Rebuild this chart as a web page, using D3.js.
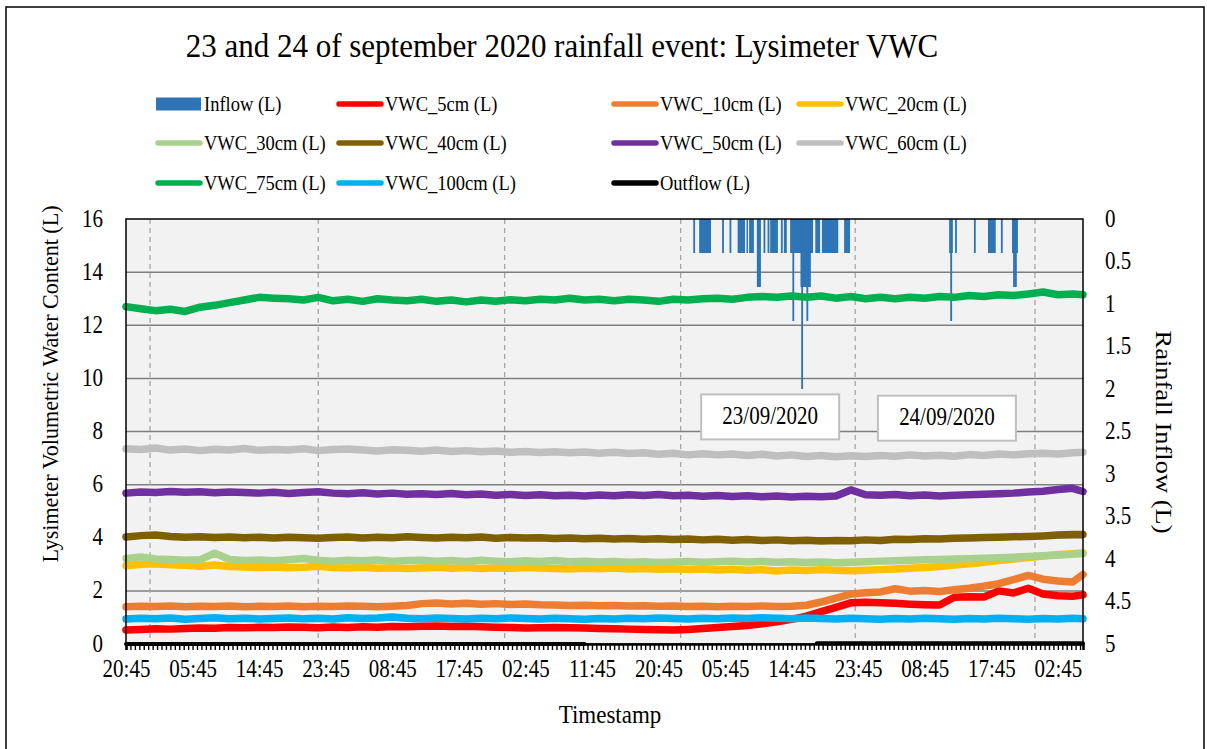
<!DOCTYPE html>
<html>
<head>
<meta charset="utf-8">
<script src="https://cdn.jsdelivr.net/npm/d3@7"></script>
<style>
  body { margin: 0; background: #fff; }
  svg { display: block; font-family: "Liberation Serif", "Times New Roman", serif; }
</style>
</head>
<body>
<div id="chart"></div>
<script>
/* CONSTANTS AND GLOBALS */
const width = 1207,
  height = 749,
  plot = { left: 126, right: 1083, top: 219, bottom: 644 };
let svg;

/* DATA */
// sample times, hours after the first 20:45 reading
const hours = d3.range(0, 129, 2).concat([129.4]);
const xTickLabels = ["20:45", "05:45", "14:45", "23:45", "08:45", "17:45", "02:45", "11:45",
  "20:45", "05:45", "14:45", "23:45", "08:45", "17:45", "02:45"];
const xTickStep = 9;
const dayLines = [3.25, 26.0, 51.2, 75.0, 98.6, 122.9];
const dateLabels = ["23/09/2020", "24/09/2020"];
const dateAnchors = [[87.1, 8.55], [111.0, 8.5]];

const seriesNames = ["Inflow (L)", "VWC_5cm (L)", "VWC_10cm (L)", "VWC_20cm (L)",
  "VWC_30cm (L)", "VWC_40cm (L)", "VWC_50cm (L)", "VWC_60cm (L)",
  "VWC_75cm (L)", "VWC_100cm (L)", "Outflow (L)"];

const vwc5 = [
  0.53, 0.55, 0.57, 0.56, 0.58, 0.60, 0.59, 0.62, 0.61, 0.63,
  0.62, 0.64, 0.63, 0.61, 0.64, 0.62, 0.65, 0.63, 0.66, 0.65,
  0.67, 0.68, 0.66, 0.67, 0.65, 0.63, 0.62, 0.60, 0.61, 0.62,
  0.61, 0.60, 0.58, 0.57, 0.56, 0.55, 0.54, 0.53, 0.55, 0.58,
  0.62, 0.66, 0.70, 0.76, 0.84, 0.93, 1.05, 1.22, 1.38, 1.55,
  1.57, 1.55, 1.53, 1.50, 1.48, 1.47, 1.76, 1.78, 1.77, 2.00,
  1.92, 2.10, 1.88, 1.82, 1.80, 1.85];
const vwc10 = [
  1.40, 1.42, 1.41, 1.43, 1.40, 1.42, 1.41, 1.43, 1.40, 1.42,
  1.41, 1.43, 1.40, 1.42, 1.41, 1.43, 1.42, 1.40, 1.42, 1.45,
  1.52, 1.54, 1.51, 1.53, 1.50, 1.52, 1.49, 1.51, 1.48, 1.47,
  1.45, 1.46, 1.44, 1.45, 1.43, 1.44, 1.42, 1.43, 1.41, 1.42,
  1.40, 1.42, 1.41, 1.43, 1.41, 1.42, 1.46, 1.58, 1.73, 1.88,
  1.93, 1.96, 2.08, 1.99, 2.01, 1.98, 2.04, 2.10, 2.18, 2.27,
  2.42, 2.58, 2.44, 2.37, 2.33, 2.62];
const vwc20 = [
  2.95, 3.00, 3.02, 2.98, 2.96, 2.93, 2.97, 2.92, 2.90, 2.88,
  2.90, 2.87, 2.89, 2.93, 2.88, 2.86, 2.89, 2.85, 2.87, 2.84,
  2.86, 2.89, 2.85, 2.88, 2.84, 2.87, 2.85, 2.88, 2.86, 2.84,
  2.82, 2.85, 2.83, 2.86, 2.82, 2.84, 2.81, 2.83, 2.80, 2.82,
  2.79, 2.81, 2.78, 2.80, 2.75, 2.79, 2.77, 2.80, 2.78, 2.76,
  2.78, 2.80, 2.82, 2.85, 2.88, 2.92, 2.97, 3.02, 3.08, 3.14,
  3.20, 3.26, 3.31, 3.36, 3.40, 3.43];
const vwc30 = [
  3.22, 3.28, 3.20, 3.18, 3.15, 3.17, 3.42, 3.18, 3.14, 3.16,
  3.13, 3.17, 3.22, 3.15, 3.12, 3.15, 3.13, 3.16, 3.12, 3.14,
  3.15, 3.12, 3.14, 3.11, 3.15, 3.12, 3.10, 3.13, 3.11, 3.14,
  3.10, 3.12, 3.09, 3.11, 3.08, 3.10, 3.07, 3.09, 3.11, 3.08,
  3.10, 3.12, 3.09, 3.11, 3.08, 3.10, 3.07, 3.09, 3.06, 3.08,
  3.10, 3.12, 3.13, 3.15, 3.17, 3.18, 3.20, 3.21, 3.23, 3.25,
  3.27, 3.29, 3.32, 3.35, 3.38, 3.41];
const vwc40 = [
  4.03, 4.08, 4.10, 4.05, 4.02, 4.04, 4.01, 4.03, 4.00, 4.02,
  3.99, 4.02, 4.00, 3.98, 4.01, 4.03, 3.99, 4.02, 4.00, 4.04,
  4.01, 3.99, 4.02, 4.00, 4.03, 3.98, 4.01, 3.99, 4.00, 3.97,
  3.99, 3.96, 3.98, 3.95, 3.97, 3.94, 3.96, 3.93, 3.95, 3.92,
  3.94, 3.91, 3.93, 3.90, 3.92, 3.89, 3.91, 3.88, 3.90, 3.89,
  3.92, 3.90, 3.94, 3.93, 3.96, 3.95, 3.98, 3.99, 4.01, 4.02,
  4.04, 4.05, 4.07, 4.10, 4.12, 4.12];
const vwc50 = [
  5.68, 5.72, 5.70, 5.74, 5.71, 5.73, 5.69, 5.72, 5.70, 5.68,
  5.71, 5.67, 5.70, 5.73, 5.68, 5.66, 5.69, 5.65, 5.68, 5.64,
  5.66, 5.63, 5.67, 5.62, 5.65, 5.60, 5.63, 5.59, 5.62, 5.58,
  5.60, 5.57, 5.61, 5.58, 5.62, 5.59, 5.63, 5.58, 5.60, 5.56,
  5.59, 5.55, 5.58, 5.54, 5.57, 5.53, 5.56, 5.54, 5.57, 5.80,
  5.62, 5.60, 5.63, 5.58, 5.61, 5.57, 5.60, 5.62, 5.64, 5.66,
  5.68, 5.72, 5.75, 5.82, 5.86, 5.74];
const vwc60 = [
  7.35, 7.32, 7.38, 7.30, 7.34, 7.28, 7.33, 7.30, 7.36, 7.29,
  7.32, 7.30, 7.35, 7.28, 7.32, 7.34, 7.30, 7.27, 7.31, 7.29,
  7.26, 7.30, 7.25, 7.28, 7.24, 7.27, 7.22, 7.25, 7.21, 7.24,
  7.20, 7.23, 7.18, 7.22, 7.17, 7.20, 7.14, 7.18, 7.12, 7.16,
  7.12, 7.15, 7.10, 7.14, 7.08, 7.12, 7.06, 7.10, 7.05, 7.09,
  7.06, 7.10, 7.07, 7.12, 7.08, 7.11, 7.07, 7.13, 7.10, 7.15,
  7.12, 7.16, 7.18, 7.15, 7.20, 7.22];
const vwc75 = [
  12.70, 12.62, 12.55, 12.60, 12.52, 12.68, 12.75, 12.85, 12.95, 13.05,
  13.02, 13.00, 12.95, 13.05, 12.92, 12.98, 12.90, 13.00, 12.95, 12.92,
  12.98, 12.90, 12.95, 12.88, 12.95, 12.90, 12.96, 12.92, 12.98, 12.95,
  13.02, 12.95, 12.98, 12.92, 12.98, 12.95, 12.90, 12.98, 12.95, 13.00,
  13.02, 12.98, 13.05, 13.08, 13.05, 13.10, 13.05, 13.10, 13.02, 13.08,
  13.00, 13.05, 13.00, 13.05, 13.02, 13.08, 13.05, 13.12, 13.08, 13.15,
  13.12, 13.18, 13.25, 13.15, 13.18, 13.15];
const vwc100 = [
  0.94, 0.97, 0.95, 0.98, 0.93, 0.96, 0.99, 0.95, 0.97, 0.94,
  0.96, 0.98, 0.95, 0.97, 0.94, 0.99, 0.96, 0.98, 1.02, 0.97,
  0.95, 0.98, 0.96, 0.94, 0.97, 0.95, 0.98, 0.96, 0.94, 0.97,
  0.95, 0.93, 0.96, 0.94, 0.97, 0.95, 0.98, 0.96, 0.94, 0.97,
  0.95, 0.98, 0.96, 0.99, 0.97, 0.95, 0.98, 0.96, 0.94, 0.97,
  0.95, 0.93, 0.96, 0.94, 0.97, 0.95, 0.93, 0.96, 0.94, 0.97,
  0.95, 0.93, 0.96, 0.94, 0.97, 0.95];

const outflowHours = [0, 62, 62, 93.4, 129.4];
const outflowValues = [0, 0, null, 0.03, 0.03];

// rain gauge inflow: [from hour, to hour, litres]
const inflow = [
  [76.7, 76.95, 0.4], [77.5, 79.1, 0.4], [80.6, 80.85, 0.4], [81.6, 81.85, 0.4],
  [82.7, 83.7, 0.4], [83.9, 84.1, 0.4], [84.25, 84.9, 0.4], [85.3, 85.85, 0.8],
  [86.2, 86.45, 0.4], [86.75, 87.0, 0.4], [87.1, 88.15, 0.4], [88.55, 88.8, 0.4],
  [88.95, 89.35, 0.4], [89.8, 92.9, 0.4], [90.1, 90.35, 1.2], [91.2, 92.6, 0.8],
  [91.3, 91.55, 2.0], [92.0, 92.25, 1.2], [93.2, 93.85, 0.4], [94.1, 96.3, 0.4],
  [97.1, 97.9, 0.4],
  [111.3, 111.8, 0.4], [111.45, 111.7, 1.2], [112.1, 112.35, 0.4], [114.65, 114.9, 0.4],
  [116.55, 117.6, 0.4], [118.3, 118.55, 0.4], [119.8, 120.6, 0.4], [119.95, 120.45, 0.8]
];

/* STYLES */
const colors = ["#2e75b6", "#ff0000", "#ed7d31", "#ffc000", "#a9d18e", "#7f6000",
  "#7030a0", "#bfbfbf", "#00b050", "#00b0f0", "#000000"];
const lineSeries = [vwc5, vwc10, vwc20, vwc30, vwc40, vwc50, vwc60, vwc75, vwc100];

/* SCALES */
const x = d3.scaleLinear().domain([0, 129.4]).range([plot.left, plot.right]);
const yL = d3.scaleLinear().domain([0, 16]).range([plot.bottom, plot.top]);
const yR = d3.scaleLinear().domain([0, 5]).range([plot.top, plot.bottom]);

init();

function init() {
  svg = d3.select("#chart")
    .append("svg")
    .attr("width", width)
    .attr("height", height);
  draw();
}

// the source text is a little taller than Times metrics, stretch it vertically
function stretch(sel, s) {
  sel.each(function () {
    const t = d3.select(this);
    const tx = +t.attr("x") || 0, ty = +t.attr("y") || 0;
    t.attr("x", null).attr("y", null)
      .attr("transform", `translate(${tx},${ty}) scale(1,${s})`);
  });
}

function draw() {
  // chart border
  svg.append("rect")
    .attr("x", 6).attr("y", 7)
    .attr("width", 1198).attr("height", 760)
    .attr("fill", "#fff").attr("stroke", "#000").attr("stroke-width", 1.5);

  svg.append("text")
    .attr("x", 562).attr("y", 57)
    .attr("text-anchor", "middle")
    .attr("font-size", 31)
    .text("23 and 24 of september 2020 rainfall event: Lysimeter VWC")
    .call(stretch, 1.06);

  // plot area
  svg.append("rect")
    .attr("x", plot.left).attr("y", plot.top)
    .attr("width", plot.right - plot.left).attr("height", plot.bottom - plot.top)
    .attr("fill", "#f2f2f2");

  svg.append("g").selectAll("line")
    .data(d3.range(2, 16, 2))
    .join("line")
    .attr("x1", plot.left).attr("x2", plot.right)
    .attr("y1", d => yL(d)).attr("y2", d => yL(d))
    .attr("stroke", "#7f7f7f").attr("stroke-width", 1.5);

  svg.append("g").selectAll("line")
    .data(dayLines)
    .join("line")
    .attr("x1", d => x(d)).attr("x2", d => x(d))
    .attr("y1", plot.top).attr("y2", plot.bottom)
    .attr("stroke", "#a6a6a6").attr("stroke-width", 1.3)
    .attr("stroke-dasharray", "5,4");

  // inflow columns hang from the top (reversed right axis)
  svg.append("g").selectAll("rect")
    .data(inflow)
    .join("rect")
    .attr("x", d => x(d[0]))
    .attr("width", d => Math.max(1.5, x(d[1]) - x(d[0])))
    .attr("y", yR(0))
    .attr("height", d => yR(d[2]) - yR(0))
    .attr("fill", colors[0]);

  const line = d3.line()
    .defined(d => d != null)
    .x((d, i) => x(hours[i]))
    .y(d => yL(d));

  svg.append("g").selectAll("path")
    .data(lineSeries)
    .join("path")
    .attr("d", line)
    .attr("fill", "none")
    .attr("stroke", (d, i) => colors[i + 1])
    .attr("stroke-width", 7.5)
    .attr("stroke-linejoin", "round")
    .attr("stroke-linecap", "round");

  const outLine = d3.line()
    .defined(d => d != null)
    .x((d, i) => x(outflowHours[i]))
    .y(d => yL(d));
  svg.append("path")
    .attr("d", outLine(outflowValues))
    .attr("fill", "none")
    .attr("stroke", colors[10])
    .attr("stroke-width", 4)
    .attr("stroke-linecap", "round");

  // frame
  svg.append("rect")
    .attr("x", plot.left).attr("y", plot.top)
    .attr("width", plot.right - plot.left).attr("height", plot.bottom - plot.top)
    .attr("fill", "none").attr("stroke", "#000").attr("stroke-width", 1.5);

  // date notes
  const notes = svg.append("g").selectAll("g")
    .data(dateLabels)
    .join("g")
    .attr("transform", (d, i) => `translate(${x(dateAnchors[i][0])},${yL(dateAnchors[i][1])})`);
  notes.append("rect")
    .attr("x", -69).attr("y", -22.5).attr("width", 138).attr("height", 45)
    .attr("fill", "#fff").attr("stroke", "#bfbfbf").attr("stroke-width", 2);
  notes.append("text")
    .attr("text-anchor", "middle").attr("y", 7)
    .attr("font-size", 21)
    .text(d => d)
    .call(stretch, 1.15);

  // axes
  const minorTicks = svg.append("g")
    .attr("transform", `translate(0,${plot.bottom})`)
    .call(d3.axisBottom(x).tickValues(d3.range(0, 129.5, 0.6)).tickSize(6).tickFormat(""));
  minorTicks.select(".domain").attr("stroke-width", 2.5);
  minorTicks.selectAll(".tick line").attr("stroke-width", 1.4);

  const xAxis = svg.append("g")
    .attr("transform", "translate(0,677)")
    .call(d3.axisBottom(x)
      .tickValues(d3.range(0, xTickLabels.length).map(i => i * xTickStep))
      .tickFormat((d, i) => xTickLabels[i])
      .tickSize(0).tickPadding(0));
  xAxis.select(".domain").remove();
  xAxis.selectAll(".tick text").attr("dy", null);

  const yAxis = svg.append("g")
    .attr("transform", "translate(103,0)")
    .call(d3.axisLeft(yL).tickValues(d3.range(0, 17, 2)).tickSize(0).tickPadding(0));
  yAxis.select(".domain").remove();

  const yAxisR = svg.append("g")
    .attr("transform", "translate(1105,0)")
    .call(d3.axisRight(yR).tickValues(d3.range(0, 5.01, 0.5)).tickFormat(d3.format("~g"))
      .tickSize(0).tickPadding(0));
  yAxisR.select(".domain").remove();

  [yAxis, yAxisR].forEach(g => g.selectAll(".tick text").attr("dy", null).attr("y", 7));

  [xAxis, yAxis, yAxisR].forEach(g => g.attr("font-family", null).attr("font-size", null));
  svg.selectAll(".tick text")
    .attr("font-size", 21)
    .attr("fill", "#000")
    .call(stretch, 1.15);

  svg.append("text")
    .attr("transform", "translate(58,384) rotate(-90)")
    .attr("text-anchor", "middle")
    .attr("font-size", 23)
    .attr("textLength", 357)
    .attr("lengthAdjust", "spacingAndGlyphs")
    .text("Lysimeter Volumetric Water Content (L)");

  svg.append("text")
    .attr("transform", "translate(1156,432) rotate(90)")
    .attr("text-anchor", "middle")
    .attr("font-size", 23)
    .attr("textLength", 203)
    .attr("lengthAdjust", "spacingAndGlyphs")
    .text("Rainfall Inflow (L)");

  svg.append("text")
    .attr("x", 610).attr("y", 723)
    .attr("text-anchor", "middle")
    .attr("font-size", 23)
    .text("Timestamp")
    .call(stretch, 1.1);

  // legend
  const legendCols = [156, 337, 612, 797],
    legendRows = [104, 143, 183];
  const legend = svg.append("g").selectAll("g")
    .data(seriesNames)
    .join("g")
    .attr("transform", (d, i) => `translate(${legendCols[i % 4]},${legendRows[Math.floor(i / 4)]})`);
  legend.filter((d, i) => i === 0).append("rect")
    .attr("x", 0).attr("y", -6.5).attr("width", 45).attr("height", 13)
    .attr("fill", colors[0]);
  legend.filter((d, i) => i > 0).append("line")
    .attr("x1", 2).attr("x2", 44)
    .attr("stroke", (d, i) => colors[i + 1])
    .attr("stroke-width", 5.5)
    .attr("stroke-linecap", "round");
  legend.append("text")
    .attr("x", 48).attr("y", 6.5)
    .attr("font-size", 18.5)
    .text(d => d)
    .call(stretch, 1.12);
}
</script>
</body>
</html>
